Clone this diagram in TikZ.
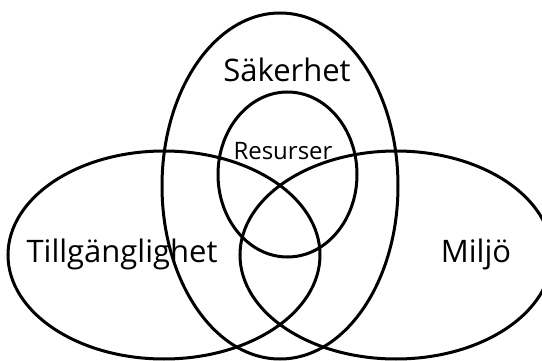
\documentclass[tikz,border=0pt]{standalone}
\usepackage{fontspec}
\setmainfont{Open Sans}
\begin{document}
\begin{tikzpicture}[x=1pt,y=-1pt,
  ring/.style={line width=3pt,black},
  biglabel/.style={font=\fontsize{31}{34}\selectfont,inner sep=0pt,anchor=base},
  smalllabel/.style={font=\fontsize{24}{27}\selectfont,inner sep=0pt,anchor=base}]
\useasboundingbox (0,0) rectangle (542,361);
\clip (0,0) rectangle (542,361);
\fill[white] (0,0) rectangle (542,361);
\draw[ring] (280,186) ellipse [x radius=118, y radius=173];
\draw[ring] (164,255) ellipse [x radius=156, y radius=104];
\draw[ring] (396,255) ellipse [x radius=156, y radius=104];
\draw[ring] (287.5,174.5) ellipse [x radius=69.5, y radius=82.5];
\node[biglabel] (sak) at (287,82) {Säkerhet};
\node[smalllabel] (res) at (283,160) {Resurser};
\node[biglabel] (till) at (122,262) {Tillgänglighet};
\node[biglabel] (mil) at (476,262) {Miljö};
\end{tikzpicture}
\end{document}
